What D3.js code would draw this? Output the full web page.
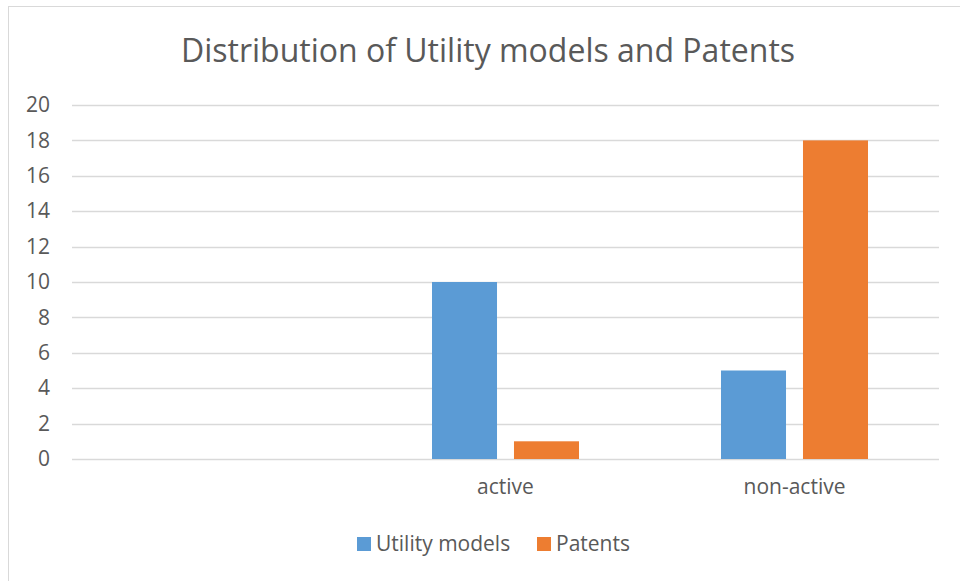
<!DOCTYPE html>
<html lang="en">
<head>
    <meta charset="UTF-8">
    <title>Distribution of Utility models and Patents</title>
    <style>
        body { margin: 0; background: #fff; }
        text { font-family: "Open Sans", "Noto Sans", sans-serif; fill: #595959; }
    </style>
</head>
<body>
    <script src="https://d3js.org/d3.v7.min.js"></script>
    <script>
        // Data
        let categories = ["", "active", "non-active"];
        let seriesNames = ["Utility models", "Patents"];
        let utilityModels = [null, 10, 5];
        let patents = [null, 1, 18];
        let yTicks = [0, 2, 4, 6, 8, 10, 12, 14, 16, 18, 20];
        let colors = ["#5B9BD5", "#ED7D31"];

        let svgWidth = 960;
        let svgHeight = 581;
        let margin = { top: 105, right: 21, bottom: 122, left: 72 };
        let chartWidth = svgWidth - margin.left - margin.right;
        let chartHeight = svgHeight - margin.top - margin.bottom;

        let svg = d3.select("body")
            .append("svg")
            .attr("width", svgWidth)
            .attr("height", svgHeight);

        // chart area border
        svg.append("rect")
            .attr("x", 8.5).attr("y", 6.5)
            .attr("width", 970).attr("height", 600)
            .attr("fill", "none")
            .attr("stroke", "#D9D9D9");

        svg.append("text")
            .attr("x", 488).attr("y", 62)
            .attr("text-anchor", "middle")
            .style("font-size", "32px")
            .text("Distribution of Utility models and Patents");

        let chartGroup = svg.append("g")
            .attr("transform", `translate(${margin.left}, ${margin.top})`);

        let x0 = d3.scaleBand().domain(categories).range([0, chartWidth]).padding(0);
        let x1 = d3.scaleBand().domain(seriesNames).range([0, x0.bandwidth()])
            .paddingInner(0.207).paddingOuter(0.866);
        let y = d3.scaleLinear().domain([0, 20]).range([chartHeight, 0]);

        // gridlines
        chartGroup.selectAll(".grid")
            .data(yTicks)
            .enter()
            .append("line")
            .attr("x1", 0).attr("x2", chartWidth)
            .attr("y1", d => Math.round(y(d)) + 0.5)
            .attr("y2", d => Math.round(y(d)) + 0.5)
            .attr("stroke", "#D9D9D9")
            .attr("stroke-width", 1.3);

        // y axis labels
        let yAxis = d3.axisLeft(y).tickValues(yTicks).tickSize(0).tickPadding(22);
        let yG = chartGroup.append("g").call(yAxis);
        yG.select(".domain").remove();
        yG.selectAll("text").style("font-size", "21px").attr("fill", "#595959");

        // x axis labels
        let xAxis = d3.axisBottom(x0).tickSize(0).tickPadding(20);
        let xG = chartGroup.append("g")
            .attr("transform", `translate(0, ${chartHeight})`)
            .call(xAxis);
        xG.select(".domain").remove();
        xG.selectAll("text").style("font-size", "21px").attr("fill", "#595959");

        let rows = categories.map((c, i) => ({
            category: c,
            values: [utilityModels[i], patents[i]]
        }));

        let groups = chartGroup.selectAll(".group")
            .data(rows)
            .enter()
            .append("g")
            .attr("transform", d => `translate(${x0(d.category)}, 0)`);

        groups.selectAll("rect")
            .data(d => d.values.map((v, j) => ({ series: seriesNames[j], value: v, j: j })).filter(d => d.value != null))
            .enter()
            .append("rect")
            .attr("x", d => x1(d.series))
            .attr("y", d => y(d.value))
            .attr("width", x1.bandwidth())
            .attr("height", d => chartHeight - y(d.value))
            .attr("fill", d => colors[d.j]);

        // legend
        let legend = svg.append("g").attr("transform", "translate(357, 537)");
        let legendX = [0, 180];
        seriesNames.forEach((name, i) => {
            legend.append("rect")
                .attr("x", legendX[i]).attr("y", 0)
                .attr("width", 14).attr("height", 14)
                .attr("fill", colors[i]);
            legend.append("text")
                .attr("x", legendX[i] + 19).attr("y", 14)
                .style("font-size", "21px")
                .text(name);
        });
    </script>
</body>
</html>
